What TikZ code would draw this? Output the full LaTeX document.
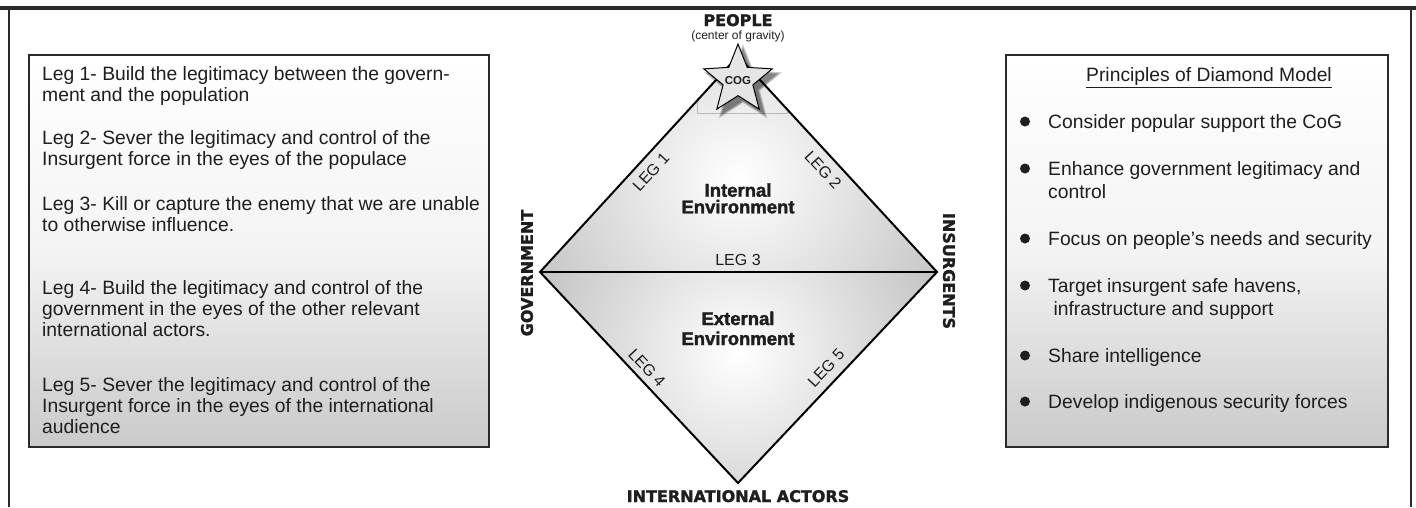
\documentclass[tikz,border=0pt]{standalone}
\usepackage{fontspec}
\setmainfont{Liberation Sans}
\newfontfamily\heavyfont[BoldFeatures={FakeBold=1.6}]{DejaVu Sans}
\newfontfamily\envfont[BoldFeatures={FakeBold=1.8}]{Liberation Sans}
\usetikzlibrary{shapes.geometric}
\definecolor{ink}{HTML}{1E1E1E}
\definecolor{edge}{HTML}{2A2A2A}
\tikzset{
  heavy/.style={font=\heavyfont\bfseries\fontsize{16}{18}\selectfont, text=ink, inner sep=0},
  leglabel/.style={font=\fontsize{16}{18}\selectfont, text=ink, inner sep=0},
  envlabel/.style={font=\envfont\bfseries\fontsize{18.5}{20}\selectfont, text=ink, inner sep=0, anchor=base},
  body/.style={font=\fontsize{19.3}{21}\selectfont, text=ink, inner sep=0, align=left, anchor=north west},
  rbody/.style={font=\fontsize{19.3}{23}\selectfont, text=ink, inner sep=0, align=left, anchor=north west},
  bullet/.style={circle, fill=ink, minimum size=10, inner sep=0},
  infobox/.style={draw=edge, line width=1.8, top color=white, bottom color=gray!42, middle color=gray!9},
  diamondline/.style={draw=black, line width=2, line join=miter},
  starshape/.style={star, star points=5, star point ratio=2.3, minimum size=72, inner sep=0},
}
\begin{document}
\begin{tikzpicture}[x=1pt,y=-1pt]
\useasboundingbox (0,0) rectangle (1416,507);
% page frame
\draw[line width=3.5, edge] (0,8) -- (1416,8);
\draw[line width=2, edge] (9,8) -- (9,507);
\draw[line width=2, edge] (1411,8) -- (1411,507);

% info boxes
\path[infobox] (29,55) rectangle (489,447);
\path[infobox] (1006,55) rectangle (1388,447);

% diamond
\coordinate (G) at (540,272);
\coordinate (P) at (738,56);
\coordinate (I) at (937,272);
\coordinate (A) at (738,483);
\begin{scope}
  \clip (G) -- (P) -- (I) -- cycle;
  \shade[inner color=white, outer color=gray!47] (738,178) circle (235);
  \draw[gray!55, line width=0.6] (697,30) rectangle (787,113);
\end{scope}
\begin{scope}
  \clip (G) -- (A) -- (I) -- cycle;
  \shade[inner color=white, outer color=gray!52] (738,352) circle (235);
\end{scope}
\draw[diamondline] (G) -- (P) -- (I) -- (A) -- cycle;
\draw[diamondline] (G) -- (I);

% star with soft shadow
\foreach \k in {0,...,6}{
  \node[starshape, minimum size=70+2.2*\k, fill=black, fill opacity=0.09] (shadow\k) at (743,85) {};
}
\node[starshape, draw=black, line width=1, fill=gray!20] (star) at (738,80) {};
\node[font=\bfseries\fontsize{11.5}{13}\selectfont, text=ink, inner sep=0] (cog) at (738,81) {COG};

% vertex labels
\node[heavy, anchor=base] (people) at (738,26) {PEOPLE};
\node[font=\fontsize{12}{13}\selectfont, text=ink, inner sep=0, anchor=base] (cgrav) at (738,39.5) {(center of gravity)};
\node[heavy, rotate=90] (gov) at (527,273) {GOVERNMENT};
\node[heavy, rotate=-90] (ins) at (949,271) {INSURGENTS};
\node[heavy, anchor=base] (intl) at (738,502) {INTERNATIONAL ACTORS};

% leg labels
\node[leglabel, rotate=47.5] (leg1) at (651,172) {LEG 1};
\node[leglabel, rotate=-47.5] (leg2) at (823,170) {LEG 2};
\node[leglabel, anchor=base] (leg3) at (738,265) {LEG 3};
\node[leglabel, rotate=-46.8] (leg4) at (647,368) {LEG 4};
\node[leglabel, rotate=46.8] (leg5) at (826,368) {LEG 5};

% environments
\node[envlabel] (int1) at (738,196.7) {Internal};
\node[envlabel] (int2) at (738,213.3) {Environment};
\node[envlabel] (ext1) at (738,325) {External};
\node[envlabel] (ext2) at (738,345) {Environment};

% left box text
\node[body] (l1) at (42,66.2) {Leg 1- Build the legitimacy between the govern-\\ment and the population};
\node[body] (l2) at (42,130.2) {Leg 2- Sever the legitimacy and control of the\\Insurgent force in the eyes of the populace};
\node[body] (l3) at (42,196.2) {Leg 3- Kill or capture the enemy that we are unable\\to otherwise influence.};
\node[body] (l4) at (42,280.2) {Leg 4- Build the legitimacy and control of the\\government in the eyes of the other relevant\\international actors.};
\node[body] (l5) at (42,377.2) {Leg 5- Sever the legitimacy and control of the\\Insurgent force in the eyes of the international\\audience};

% right box text
\node[font=\fontsize{19.3}{21}\selectfont, text=ink, inner sep=0, anchor=base] (rtitle) at (1209,81.7) {\underline{Principles of Diamond Model}};
\node[rbody] (r1) at (1048,114.2) {Consider popular support the CoG};
\node[rbody] (r2) at (1048,161.2) {Enhance government legitimacy and\\control};
\node[rbody] (r3) at (1048,231.2) {Focus on people’s needs and security};
\node[rbody] (r4) at (1048,278.2) {Target insurgent safe havens,\\\hspace*{0.28em}infrastructure and support};
\node[rbody] (r5) at (1048,348.2) {Share intelligence};
\node[rbody] (r6) at (1048,394.2) {Develop indigenous security forces};
\node[bullet] (b1) at (1025,121.5) {};
\node[bullet] (b2) at (1025,168.5) {};
\node[bullet] (b3) at (1025,238.5) {};
\node[bullet] (b4) at (1025,285.5) {};
\node[bullet] (b5) at (1025,355.5) {};
\node[bullet] (b6) at (1025,401.5) {};
\end{tikzpicture}
\end{document}
